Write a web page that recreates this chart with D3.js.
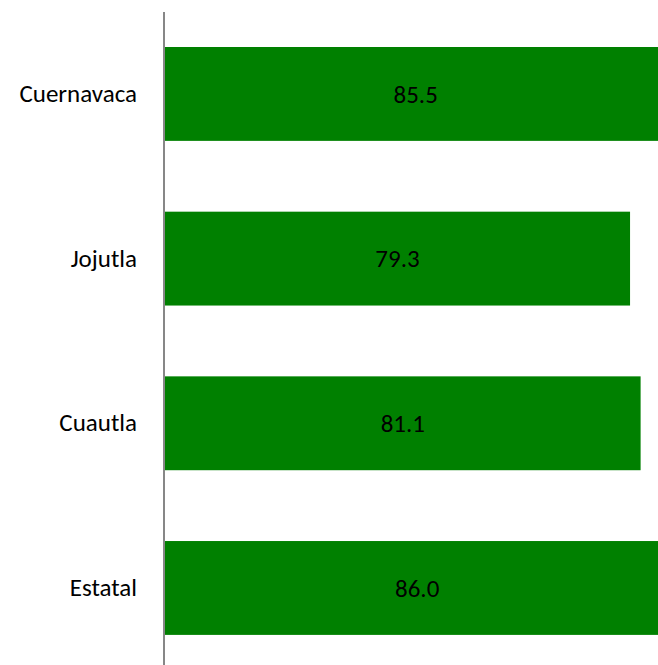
<!DOCTYPE html>
<html><head><meta charset="utf-8">
<script src="https://cdn.jsdelivr.net/npm/d3@7"></script>
<style>html,body{margin:0;padding:0;background:#fff;overflow:hidden}</style>
</head><body>
<svg id="chart" width="658" height="665"></svg>
<script>
const categories = ["Cuernavaca", "Jojutla", "Cuautla", "Estatal"];
const values = [85.5, 79.3, 81.1, 86.0];
const valueLabels = ["85.5", "79.3", "81.1", "86.0"];

const svg = d3.select("#chart");
const font = "Calibri, Carlito, Lato, 'Open Sans', sans-serif";
const x = d3.scaleLinear().domain([0, 90]).range([165, 692.8]);
const y = d3.scaleBand().domain(categories).range([11.6, 670.3]).paddingInner(0.43).paddingOuter(0.215);

svg.selectAll("rect.bar").data(categories).enter().append("rect")
  .attr("x", x(0)).attr("y", d => y(d))
  .attr("width", (d, i) => x(values[i]) - x(0))
  .attr("height", y.bandwidth()).attr("fill", "#008000");

svg.selectAll("text.val").data(categories).enter().append("text")
  .attr("x", (d, i) => (x(0) + x(values[i])) / 2)
  .attr("y", d => y(d) + y.bandwidth() / 2)
  .attr("dy", "0.35em").attr("text-anchor", "middle")
  .style("font-family", font).style("font-size", "25px").attr("fill", "#000")
  .text((d, i) => valueLabels[i]);

const axis = svg.append("g").attr("transform", "translate(164,0)")
  .call(d3.axisLeft(y).tickSize(0).tickPadding(27));
axis.select(".domain").attr("d", "M0,12V665").attr("stroke", "#878787").attr("stroke-width", 2);
axis.selectAll("text").style("font-family", font).style("font-size", "25px").attr("fill", "#000");
</script>
</body></html>
